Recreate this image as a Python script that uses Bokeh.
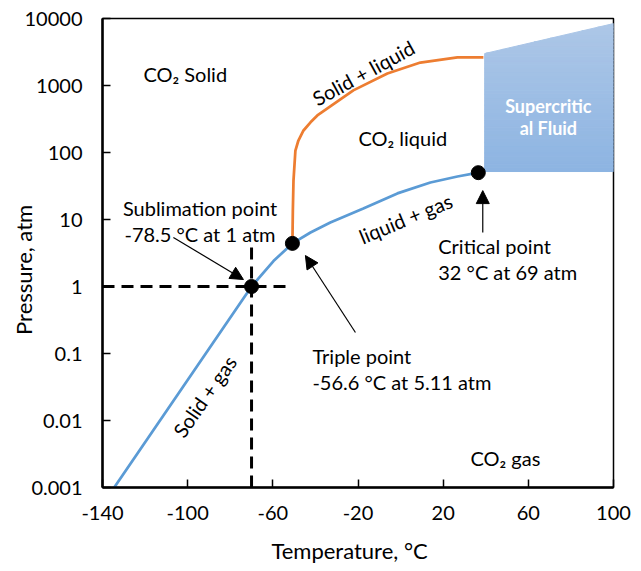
import math
from bokeh.plotting import figure
from bokeh.models import Range1d, FixedTicker, CustomJSTickFormatter, Label, Arrow, NormalHead
from bokeh.embed import file_html
from bokeh.resources import INLINE

# ---------------- data ----------------
x_ticks = [-140, -100, -60, -20, 20, 60, 100]
y_ticks = [0.001, 0.01, 0.1, 1, 10, 100, 1000, 10000]

# solid+gas / liquid+gas boundary (blue)
vap_T = [-134.5, -70.0, -59.7, -50.8, -42.3, -33.0, -17.5, -1.5, 14.0, 26.7, 36.5]
vap_P = [0.001, 1.0, 2.4, 4.4, 6.4, 9.0, 14.6, 24.5, 35.7, 43.8, 50.0]

# solid+liquid boundary (orange)
melt_T = [-50.8, -50.6, -50.3, -49.4, -48.0, -45.6, -42.3, -39.1, -22.2, -6.2, 9.3, 26.7, 38.9]
melt_P = [4.4, 13.6, 38, 107, 151, 213, 282, 357, 846, 1510, 2200, 2620, 2630]

# marked points: sublimation, triple, critical
pt_T = [-70.0, -50.8, 36.5]
pt_P = [1.0, 4.4, 50.0]

# dashed guides
hdash_T = [-140, -50.8]
hdash_P = [1.0, 1.0]
vdash_T = [-70.0, -70.0]
vdash_P = [0.001, 4.4]

# supercritical fluid region
sc_T = [39.5, 100, 100, 39.5]
sc_P = [3000, 8400, 52, 52]
sc_top_color = (173, 199, 231)
sc_bottom_color = (141, 180, 226)

# region / curve labels
label_text = ["CO\u2082 Solid", "CO\u2082 liquid", "CO\u2082 gas"]
label_T = [-120.8, -19.8, 32.8]
label_P = [1510, 162, 0.0028]

curve_text = ["Solid + liquid", "liquid + gas", "Solid + gas"]
curve_T = [-17.5, 2.3, -92.1]
curve_P = [1550, 10.4, 0.023]
curve_angle = [28.7, 22.5, 55.0]

# annotations
ann_text = ["Sublimation point", "-78.5 \u00b0C at 1 atm",
            "Triple point", "-56.6 \u00b0C at 5.11 atm",
            "Critical point", "32 \u00b0C at 69 atm"]
ann_T = [-94.2, -94.2, -41.4, -41.4, 17.7, 17.7]
ann_P = [15.1, 6.18, 0.093, 0.037, 4.09, 1.62]
ann_align = ["center", "center", "left", "left", "left", "left"]

arrow_T0 = [-106.7, -21.2, 38.6]
arrow_P0 = [5.4, 0.206, 6.4]
arrow_T1 = [-73.8, -44.7, 38.6]
arrow_P1 = [1.27, 2.9, 27.0]

x_title = "Temperature, \u00b0C"
y_title = "Pressure, atm"

FONT = "Lato"
BLUE = "#5b9bd5"
ORANGE = "#ed7d31"

p = figure(width=641, height=571, x_range=Range1d(-140, 100), y_range=Range1d(0.001, 10000),
           y_axis_type="log", output_backend="svg", toolbar_location=None,
           min_border_left=102, min_border_right=28, min_border_top=18, min_border_bottom=84)
p.grid.visible = False
p.outline_line_color = "black"
p.outline_line_width = 1.5
p.background_fill_color = "white"
p.border_fill_color = "white"

p.xaxis.ticker = FixedTicker(ticks=x_ticks)
p.yaxis.ticker = FixedTicker(ticks=y_ticks)
p.xaxis.formatter = CustomJSTickFormatter(code="return tick.toFixed(0);")
p.yaxis.formatter = CustomJSTickFormatter(code="""
const e = Math.round(Math.log10(tick));
return e >= 0 ? (10 ** e).toFixed(0) : (10 ** e).toFixed(-e);
""")
for ax in (p.xaxis, p.yaxis):
    ax.axis_line_width = 2.5
    ax.axis_line_color = "black"
    ax.major_tick_in = 8
    ax.major_tick_out = 0
    ax.major_tick_line_width = 1.5
    ax.major_tick_line_color = "black"
    ax.minor_tick_line_color = None
    ax.major_label_text_font = FONT
    ax.major_label_text_font_size = "20px"
    ax.major_label_text_color = "black"
    ax.axis_label_text_font = FONT
    ax.axis_label_text_font_size = "22px"
    ax.axis_label_text_font_style = "normal"
    ax.axis_label_text_color = "black"
p.xaxis.major_label_standoff = 18
p.yaxis.major_label_standoff = 20
# trailing no-break spaces nudge the centred titles to the reference position
p.xaxis.axis_label = x_title + "\u00a0" * 3
p.yaxis.axis_label = y_title + "\u00a0" * 6
p.xaxis.axis_label_standoff = 14
p.yaxis.axis_label_standoff = -15

# supercritical gradient (horizontal bands clipped to the polygon in log space)
poly = [(t, math.log10(v)) for t, v in zip(sc_T, sc_P)]


def clip(pts, keep, level):
    out = []
    for i in range(len(pts)):
        cur, prev = pts[i], pts[i - 1]
        cin, pin = keep(cur), keep(prev)
        if cin != pin:
            t = (level - prev[1]) / (cur[1] - prev[1])
            out.append((prev[0] + t * (cur[0] - prev[0]), level))
        if cin:
            out.append(cur)
    return out


lo_all = min(q[1] for q in poly)
hi_all = max(q[1] for q in poly)
nb = 40
xs, ys, cols = [], [], []
for i in range(nb):
    lo = lo_all + (hi_all - lo_all) * i / nb
    hi = lo_all + (hi_all - lo_all) * (i + 1) / nb
    pts = clip(poly, lambda q: q[1] >= lo, lo)
    if pts:
        pts = clip(pts, lambda q: q[1] <= hi, hi)
    if len(pts) < 3:
        continue
    f = (i + 0.5) / nb
    c = tuple(int(round(b + (t - b) * f)) for b, t in zip(sc_bottom_color, sc_top_color))
    xs.append([q[0] for q in pts])
    ys.append([10 ** q[1] for q in pts])
    cols.append("#%02x%02x%02x" % c)
p.patches(xs, ys, fill_color=cols, line_color=cols, line_width=1)

# curves
p.line(melt_T, melt_P, line_color=ORANGE, line_width=2.75)
p.line(vap_T, vap_P, line_color=BLUE, line_width=2.75)
p.line(hdash_T, hdash_P, line_color="black", line_width=3, line_dash="12 7")
p.line(vdash_T, vdash_P, line_color="black", line_width=3, line_dash="12 7")
p.scatter(pt_T, pt_P, size=14, fill_color="black", line_color="black")

for t, x, y in zip(label_text, label_T, label_P):
    p.add_layout(Label(x=x, y=y, text=t, text_font=FONT, text_font_size="20px",
                       text_align="left", text_baseline="middle", text_color="black"))
for t, x, y, a in zip(curve_text, curve_T, curve_P, curve_angle):
    p.add_layout(Label(x=x, y=y, text=t, text_font=FONT, text_font_size="20px", angle=math.radians(a),
                       text_align="center", text_baseline="middle", text_color="black"))
for t, x, y, al in zip(ann_text, ann_T, ann_P, ann_align):
    p.add_layout(Label(x=x, y=y, text=t, text_font=FONT, text_font_size="20px",
                       text_align=al, text_baseline="middle", text_color="black"))
for x0, y0, x1, y1 in zip(arrow_T0, arrow_P0, arrow_T1, arrow_P1):
    p.add_layout(Arrow(x_start=x0, y_start=y0, x_end=x1, y_end=y1, line_width=1.2, line_color="black",
                       end=NormalHead(size=13, fill_color="black", line_color="black", line_width=1)))

# supercritical text
p.add_layout(Label(x=69.4, y=500, text="Supercritic", text_font=FONT, text_font_size="18px",
                   text_font_style="bold", text_color="white", text_align="center", text_baseline="middle"))
p.add_layout(Label(x=69.4, y=229, text="al Fluid", text_font=FONT, text_font_size="18px",
                   text_font_style="bold", text_color="white", text_align="center", text_baseline="middle"))

open("out.html", "w").write(file_html(p, INLINE))
